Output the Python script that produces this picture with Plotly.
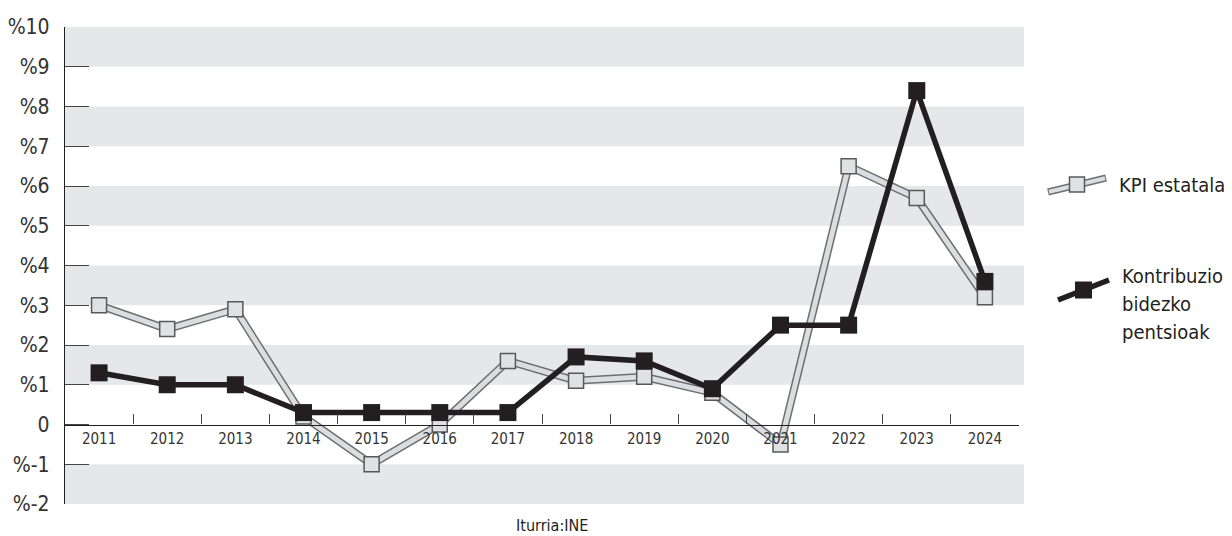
import plotly.graph_objects as go

years = ["2011", "2012", "2013", "2014", "2015", "2016", "2017",
         "2018", "2019", "2020", "2021", "2022", "2023", "2024"]
kpi_estatala = [3.0, 2.4, 2.9, 0.2, -1.0, 0.0, 1.6, 1.1, 1.2, 0.8, -0.5, 6.5, 5.7, 3.2]
pentsioak = [1.3, 1.0, 1.0, 0.3, 0.3, 0.3, 0.3, 1.7, 1.6, 0.9, 2.5, 2.5, 8.4, 3.6]
y_tickvals = [-2, -1, 0, 1, 2, 3, 4, 5, 6, 7, 8, 9, 10]
y_ticktext = ["%-2", "%-1", "0", "%1", "%2", "%3", "%4", "%5", "%6", "%7", "%8", "%9", "%10"]
band_ranges = [(9, 10), (7, 8), (5, 6), (3, 4), (1, 2), (-2, -1)]
legend_names = ["KPI estatala", "Kontribuzio", "bidezko", "pentsioak"]
source_text = "Iturria:INE"

# page body has an 8px margin; figure sized to fit the window
OFF = 8
W, H = 1232 - OFF, 536 - OFF
ML = 65 - OFF
MT = 27 - OFF
MR = W - (1019 - OFF)
MB = H - (504 - OFF)
PW = W - ML - MR
PH = H - MT - MB

def px_x(px):
    return (px - OFF - ML) / PW

def px_y(py):
    return (H - MB - (py - OFF)) / PH

FONT = "DejaVu Sans Condensed, DejaVu Sans, sans-serif"
TXT = "#231f20"
BAND = "#e6e7e8"
G_OUT = "#6d6e71"
G_IN = "#dcdde0"
G_MK = "#e0e1e3"
G_MKL = "#58595b"

fig = go.Figure()

fig.add_trace(go.Scatter(x=years, y=kpi_estatala, mode="lines",
                         line=dict(color=G_OUT, width=8), hoverinfo="skip",
                         showlegend=False))
fig.add_trace(go.Scatter(x=years, y=kpi_estatala, mode="lines+markers",
                         name="KPI estatala",
                         line=dict(color=G_IN, width=5),
                         marker=dict(symbol="square", size=15, color=G_MK,
                                     line=dict(color=G_MKL, width=1.5)),
                         showlegend=False))
fig.add_trace(go.Scatter(x=years, y=pentsioak, mode="lines+markers",
                         name="Kontribuzio bidezko pentsioak",
                         line=dict(color=TXT, width=5.5),
                         marker=dict(symbol="square", size=17, color=TXT,
                                     line=dict(width=0)),
                         showlegend=False))

shapes = []
for y0, y1 in band_ranges:
    shapes.append(dict(type="rect", xref="paper", yref="y", x0=0, x1=px_x(1024),
                       y0=y0, y1=y1, fillcolor=BAND, line=dict(width=0),
                       layer="below"))

# legend keys
shapes.append(dict(type="line", xref="paper", yref="paper",
                   x0=px_x(1048), y0=px_y(192), x1=px_x(1106), y1=px_y(178),
                   line=dict(color=G_OUT, width=7)))
shapes.append(dict(type="line", xref="paper", yref="paper",
                   x0=px_x(1049), y0=px_y(191.8), x1=px_x(1105), y1=px_y(178.2),
                   line=dict(color=G_IN, width=4)))
shapes.append(dict(type="rect", xref="paper", yref="paper",
                   xsizemode="pixel", ysizemode="pixel",
                   xanchor=px_x(1077), yanchor=px_y(184.5),
                   x0=-7.5, x1=7.5, y0=-7.5, y1=7.5,
                   fillcolor=G_MK, line=dict(color=G_MKL, width=1.5)))
shapes.append(dict(type="line", xref="paper", yref="paper",
                   x0=px_x(1058), y0=px_y(300), x1=px_x(1109), y1=px_y(280),
                   line=dict(color=TXT, width=5.5)))
shapes.append(dict(type="rect", xref="paper", yref="paper",
                   xsizemode="pixel", ysizemode="pixel",
                   xanchor=px_x(1083.5), yanchor=px_y(290),
                   x0=-8.5, x1=8.5, y0=-8.5, y1=8.5,
                   fillcolor=TXT, line=dict(width=0)))

annotations = [
    dict(text=legend_names[0], xref="paper", yref="paper", x=px_x(1117), y=px_y(185),
         xanchor="left", yanchor="middle", showarrow=False,
         font=dict(family=FONT, size=20, color=TXT)),
]
for i, nm in enumerate(legend_names[1:]):
    annotations.append(dict(text=nm, xref="paper", yref="paper",
                            x=px_x(1120), y=px_y(276 + 28 * i),
                            xanchor="left", yanchor="middle", showarrow=False,
                            font=dict(family=FONT, size=20, color=TXT)))
annotations.append(dict(text=source_text, xref="paper", yref="paper",
                        x=px_x(552), y=px_y(525), xanchor="center", yanchor="middle",
                        showarrow=False, font=dict(family=FONT, size=16, color=TXT)))

fig.update_layout(
    width=W, height=H,
    margin=dict(l=ML, r=MR, t=MT, b=MB, autoexpand=False),
    plot_bgcolor="white", paper_bgcolor="white",
    shapes=shapes, annotations=annotations,
    showlegend=False,
    xaxis=dict(type="category", categoryorder="array", categoryarray=years,
               range=[-0.5, 13.5], anchor="free", position=2 / 12,
               automargin=False,
               showline=True, linecolor=TXT, linewidth=1.3,
               ticks="inside", ticklen=10, tickcolor="#444", tickwidth=1,
               tickson="boundaries", showgrid=False, zeroline=False,
               tickfont=dict(family=FONT, size=15, color="#333")),
    yaxis=dict(range=[-2, 10], tickvals=y_tickvals, ticktext=y_ticktext,
               automargin=False,
               showline=True, linecolor=TXT, linewidth=1.3,
               ticks="inside", ticklen=24, tickcolor="#444", tickwidth=1.3,
               ticklabelstandoff=10,
               showgrid=False, zeroline=False,
               tickfont=dict(family=FONT, size=21, color="#333")),
)

fig.write_html("out.html")
